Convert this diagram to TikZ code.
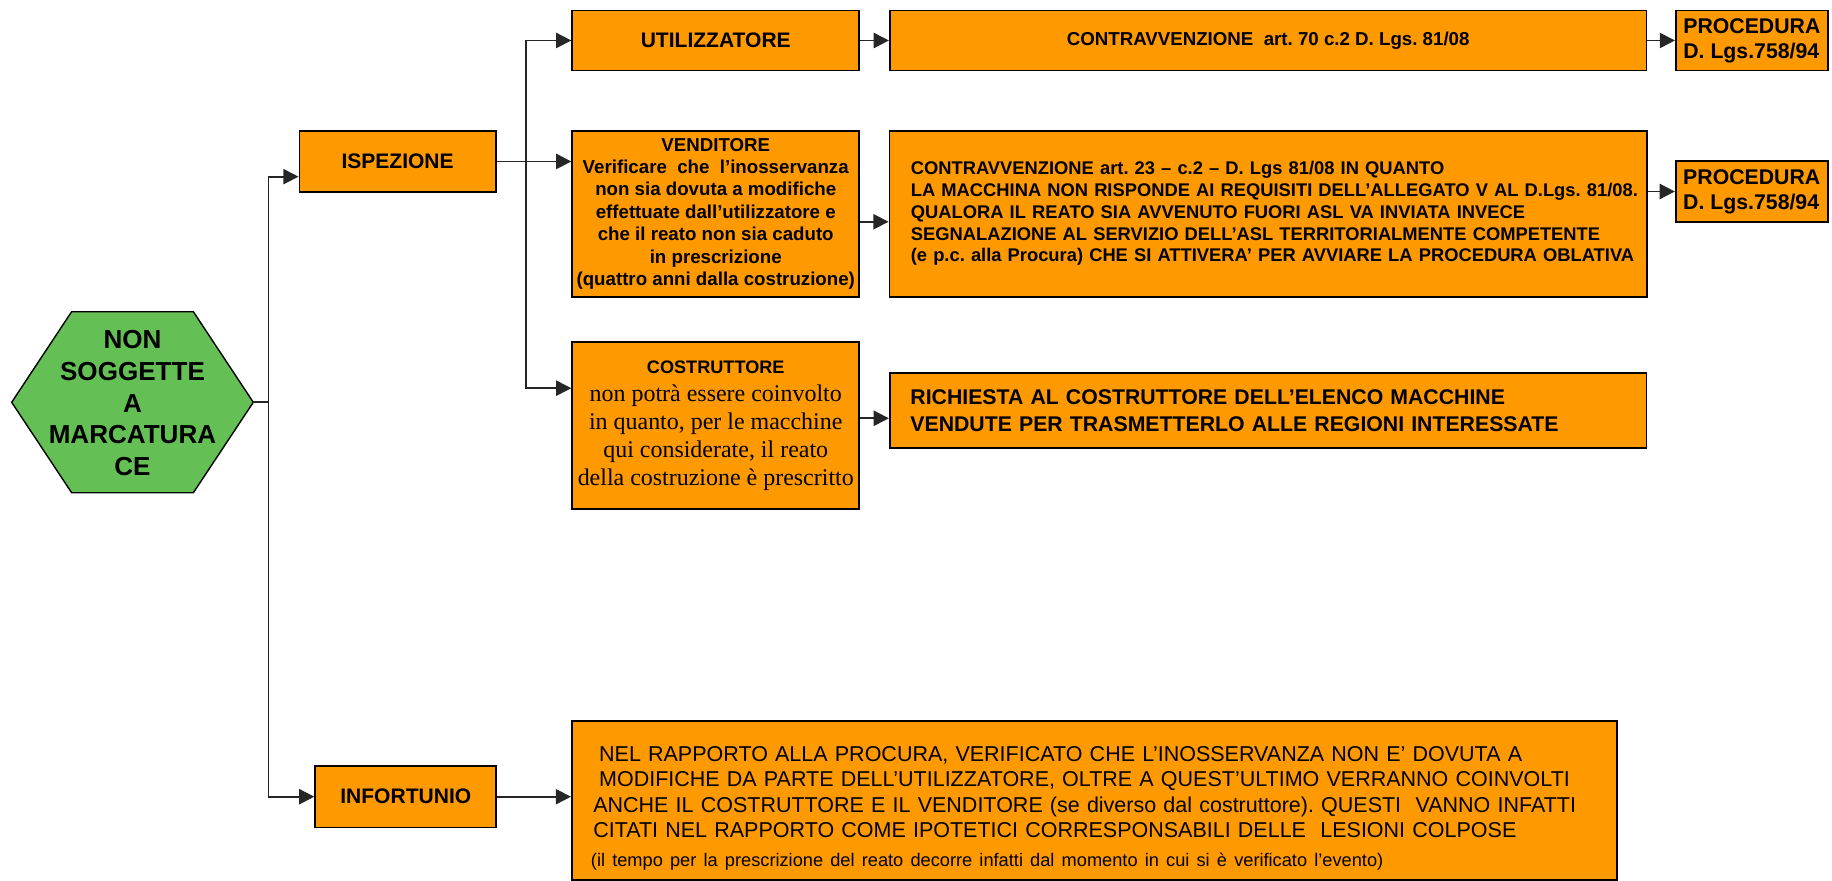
\documentclass[tikz,border=0pt]{standalone}
\usepackage{fontspec}
\setmainfont{Liberation Sans}
\newfontfamily\arialf{Liberation Sans}
\newfontfamily\timesf{Liberation Serif}
\usetikzlibrary{arrows.meta}
\definecolor{boxorange}{RGB}{255,153,0}
\definecolor{hexgreen}{RGB}{100,192,84}
\begin{document}
\frenchspacing
\begin{tikzpicture}[x=1pt,y=-1pt,
  box/.style={draw=black, fill=boxorange, line width=1.6pt, inner sep=0pt, anchor=north west},
  conn/.style={draw=black!85, line width=1.5pt},
  arr/.style={conn, -{Triangle[length=13pt,width=13pt]}},
  hexstyle/.style={draw=black, fill=hexgreen, line width=1.2pt},
]
\useasboundingbox (0,0) rectangle (1568,754);

% hexagon
\draw[hexstyle] (10,344.3) -- (61.3,266.8) -- (165.5,266.8) -- (216.8,344.3) -- (165.5,421.7) -- (61.3,421.7) -- cycle;
\node[font=\fontsize{22.3}{27.2}\selectfont\bfseries, align=center] (hex) at (113.4,345) {NON\\SOGGETTE\\A\\MARCATURA\\CE};

% boxes
\node[box, minimum width=245.6pt, minimum height=51.3pt, font=\fontsize{18}{21.6}\selectfont\bfseries] (util) at (489,8.2) {UTILIZZATORE};
\node[box, minimum width=647.6pt, minimum height=51.3pt, font=\fontsize{16}{19}\selectfont\bfseries] (contraA) at (760.8,8.2) {CONTRAVVENZIONE\ \ art. 70 c.2 D. Lgs. 81/08};
\node[box, minimum width=130pt, minimum height=51.3pt, align=left, font=\fontsize{18.2}{21.5}\selectfont\bfseries] (procA) at (1433.6,8.2) {PROCEDURA\\D. Lgs.758/94};

\node[box, minimum width=168pt, minimum height=52.2pt, font=\fontsize{18}{21.6}\selectfont\bfseries] (isp) at (255.5,111.3) {ISPEZIONE};

\node[box, minimum width=245.6pt, minimum height=141.8pt, align=center, font=\fontsize{16}{19.2}\selectfont\bfseries] (vend) at (489,111.3) {VENDITORE\\Verificare\ \ che\ \ l’inosservanza\\non sia dovuta a modifiche\\effettuate dall’utilizzatore e\\che il reato non sia caduto\\in prescrizione\\(quattro anni dalla costruzione)};

\node[box, minimum width=648pt, minimum height=142pt, text width=648pt, align=left, font=\fontsize{15.7}{18.7}\selectfont\bfseries] (contraB) at (760.5,111.3) {\hspace*{18.3pt}\begin{tabular}{@{}l@{}}CONTRAVVENZIONE art. 23 – c.2 – D. Lgs 81/08 IN QUANTO\\LA MACCHINA NON RISPONDE AI REQUISITI DELL’ALLEGATO V AL D.Lgs. 81/08.\\QUALORA IL REATO SIA AVVENUTO FUORI ASL VA INVIATA INVECE\\SEGNALAZIONE AL SERVIZIO DELL’ASL TERRITORIALMENTE COMPETENTE\\(e p.c. alla Procura) CHE SI ATTIVERA’ PER AVVIARE LA PROCEDURA OBLATIVA\end{tabular}};

\node[box, minimum width=130pt, minimum height=51.6pt, align=left, font=\fontsize{18.2}{21.5}\selectfont\bfseries] (procB) at (1433.5,137.3) {PROCEDURA\\D. Lgs.758/94};

\node[box, minimum width=245.6pt, minimum height=142.3pt, align=center, font=\fontsize{20.5}{24}\selectfont\timesf] (cost) at (489,292.2) {{\fontsize{15.5}{18}\selectfont\arialf\bfseries COSTRUTTORE}\\non potrà essere coinvolto\\in quanto, per le macchine\\qui considerate, il reato\\della costruzione è prescritto};

\node[box, minimum width=647.6pt, minimum height=64.2pt, text width=647.6pt, align=left, font=\fontsize{18.2}{23}\selectfont\bfseries] (rich) at (760.8,318.7) {\leftskip=17.6pt\relax RICHIESTA AL COSTRUTTORE DELL’ELENCO MACCHINE\\VENDUTE PER TRASMETTERLO ALLE REGIONI INTERESSATE\par};

\node[box, minimum width=155pt, minimum height=52.8pt, font=\fontsize{18}{21.6}\selectfont\bfseries] (inf) at (269,654.7) {INFORTUNIO};

\node[box, minimum width=894.3pt, minimum height=136pt, text width=894.3pt, align=left, font=\fontsize{18.4}{21.7}\selectfont] (big) at (488.7,616.2) {\leftskip=18.3pt\relax\hspace*{5pt}\rule{0pt}{27pt}NEL RAPPORTO ALLA PROCURA, VERIFICATO CHE L’INOSSERVANZA NON E’ DOVUTA A\\\hspace*{5pt}MODIFICHE DA PARTE DELL’UTILIZZATORE, OLTRE A QUEST’ULTIMO VERRANNO COINVOLTI\\ANCHE IL COSTRUTTORE E IL VENDITORE (se diverso dal costruttore). QUESTI\ \ VANNO INFATTI\\CITATI NEL RAPPORTO COME IPOTETICI CORRESPONSABILI DELLE\ \ LESIONI COLPOSE\\\fontsize{15.6}{25}\selectfont\hspace*{-2pt}(il tempo per la prescrizione del reato decorre infatti dal momento in cui si è verificato l’evento)\par};

% connectors
\coordinate (hexR) at (216.8,344.3);
\coordinate (j1) at (229.7,344.3);
\coordinate (j2) at (450,137.4);

\draw[conn] (hexR) -- (j1);
\draw[arr] (j1) |- ([yshift=-13pt]isp.west);
\draw[arr] (j1) |- (inf.west);
\draw[arr] (isp.east) -- (isp.east -| vend.west);
\draw[arr] (j2) |- (util.west);
\draw[arr] (j2) |- ([yshift=31.9pt]cost.west);
\draw[arr] (util.east) -- (contraA.west);
\draw[arr] (contraA.east) -- (procA.west);
\coordinate (v1) at ([yshift=-6.8pt]vend.east);
\draw[arr] (v1) -- (v1 -| contraB.west);
\draw[arr] (contraB.east |- procB.west) -- (procB.west);
\coordinate (c1) at ([yshift=-6.4pt]rich.west);
\draw[arr] (cost.east |- c1) -- (c1);
\draw[arr] (inf.east) -- (inf.east -| big.west);
\end{tikzpicture}
\end{document}
